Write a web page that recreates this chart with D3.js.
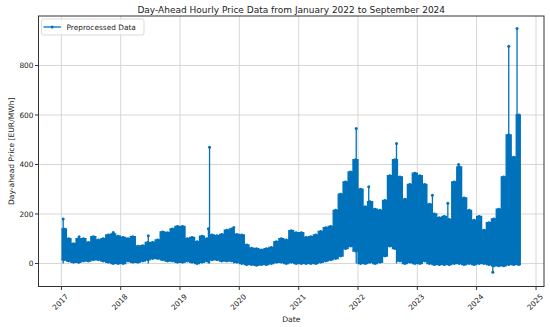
<!DOCTYPE html>
<html>
<head>
<meta charset="utf-8">
<script src="https://cdnjs.cloudflare.com/ajax/libs/d3/7.8.5/d3.min.js"></script>
<style>
  body { margin: 0; background: #fff; }
  text { font-family: "DejaVu Sans", sans-serif; fill: #222; }
</style>
</head>
<body>
<div id="chart"></div>
<script>
////////////////////////////////////////////////////////////////////////
// Data: monthly high / low envelope of the hourly
// prices (EUR/MWh), Jan 2017 .. Sep 2024, plus the single-hour spikes

let startMonth = new Date(2017, 0, 1);
let endDate = new Date(2024, 8, 30);

let monthHigh = [
  140, 100, 80, 100, 100, 85, 108, 95, 100, 115, 120, 110,     // 2017
  105, 100, 108, 70, 72, 85, 85, 95, 128, 125, 140, 150,       // 2018
  150, 100, 105, 88, 110, 100, 115, 112, 118, 135, 140, 118,   // 2019
  115, 75, 62, 60, 55, 60, 65, 88, 100, 95, 133, 125,          // 2020
  125, 105, 108, 115, 130, 145, 150, 215, 280, 330, 370, 420,  // 2021
  300, 230, 250, 220, 215, 255, 355, 420, 350, 260, 320, 365,  // 2022
  355, 320, 240, 200, 185, 190, 178, 330, 390, 265, 215, 175,  // 2023
  190, 135, 165, 180, 220, 350, 520, 430, 600                  // 2024
];

let monthLow = [
  15, 10, 5, 5, 10, 10, 15, 15, 10, 5, 0, 0,
  0, 10, 5, 5, 10, 15, 20, 20, 15, 10, 10, 5,
  5, 10, 5, 0, 5, 10, 15, 15, 10, 10, 10, 5,
  0, -5, -5, -8, -5, -5, 0, 5, 5, 0, 5, 0,
  0, 0, 0, 0, 5, 10, 15, 20, 30, 60, 70, 50,
  0, 0, 5, 0, 5, 30, 70, 60, 10, 0, 5, 0,
  0, 10, 0, -5, -5, -5, -5, 0, 0, -5, 0, -5,
  0, 0, -5, -10, -10, -10, -5, -5, -5
];

let spikeDates = [
  "2017-01-12", "2017-04-20", "2017-11-16", "2018-06-20", "2019-06-25",
  "2019-07-02", "2019-11-28", "2021-12-21", "2022-03-08", "2022-08-26",
  "2023-04-04", "2023-07-08", "2023-09-12", "2024-04-10", "2024-07-17",
  "2024-09-06"
];
let spikeValues = [180, 108, 125, 112, 140, 470, 145, 545, 310, 485, 276, 243, 400, -35, 878, 949];

let yTicks = [0, 200, 400, 600, 800];
let xTickYears = [2017, 2018, 2019, 2020, 2021, 2022, 2023, 2024, 2025];

////////////////////////////////////////////////////////////////////////
// Canvas and scales

let width = 550;
let height = 327;
let padLeft = 38.5, padRight = 544, padTop = 16, padBottom = 286.5;
let blue = "#0072bb";

let svg = d3.select("#chart")
  .append("svg")
  .attr("width", width).attr("height", height);

let xScale = d3.scaleTime()
  .domain([new Date(2016, 7, 13), new Date(2025, 1, 19)])
  .range([padLeft, padRight]);

let yScale = d3.scaleLinear()
  .domain([-93, 1000])
  .range([padBottom, padTop]);

// one step per month, closed at the last day of the series
let parse = d3.timeParse("%Y-%m-%d");
let env = monthHigh.map(function (h, i) {
  return { date: d3.timeMonth.offset(startMonth, i), high: h, low: monthLow[i] };
});
env.push({ date: endDate, high: monthHigh[monthHigh.length - 1], low: monthLow[monthLow.length - 1] });
// markers sit in the middle of each month
let marks = monthHigh.map(function (h, i) {
  let m0 = d3.timeMonth.offset(startMonth, i);
  let m1 = d3.timeMonth.offset(startMonth, i + 1);
  return { date: new Date((+m0 + +m1) / 2), high: h, low: monthLow[i] };
});

let spikes = spikeDates.map((d, i) => ({ date: parse(d), value: spikeValues[i] }));

////////////////////////////////////////////////////////////////////////
// Grid

let grid = svg.append("g").attr("stroke", "#d3d3d3").attr("stroke-width", 0.9);
grid.selectAll(".vgrid")
  .data(xTickYears)
  .enter()
  .append("line")
  .attr("x1", d => xScale(new Date(d, 0, 1))).attr("x2", d => xScale(new Date(d, 0, 1)))
  .attr("y1", padTop).attr("y2", padBottom);
grid.selectAll(".hgrid")
  .data(yTicks)
  .enter()
  .append("line")
  .attr("x1", padLeft).attr("x2", padRight)
  .attr("y1", d => yScale(d)).attr("y2", d => yScale(d));

////////////////////////////////////////////////////////////////////////
// Data: band, edges with markers, spikes

let plot = svg.append("g");

plot.append("path")
  .datum(env)
  .attr("fill", blue)
  .attr("d", d3.area()
    .curve(d3.curveStepAfter)
    .x(d => xScale(d.date))
    .y0(d => yScale(d.low))
    .y1(d => yScale(d.high)));

["high", "low"].forEach(function (k) {
  plot.append("path")
    .datum(env)
    .attr("fill", "none")
    .attr("stroke", blue)
    .attr("stroke-width", 1.3)
    .attr("d", d3.line().curve(d3.curveStepAfter).x(d => xScale(d.date)).y(d => yScale(d[k])));
  plot.selectAll(".dot-" + k)
    .data(marks)
    .enter()
    .append("circle")
    .attr("cx", d => xScale(d.date))
    .attr("cy", d => yScale(d[k]))
    .attr("r", 1.4)
    .attr("fill", blue);
});

plot.selectAll(".spike")
  .data(spikes)
  .enter()
  .append("line")
  .attr("x1", d => xScale(d.date)).attr("x2", d => xScale(d.date))
  .attr("y1", yScale(0)).attr("y2", d => yScale(d.value))
  .attr("stroke", blue)
  .attr("stroke-width", 1.3);

plot.selectAll(".spikedot")
  .data(spikes)
  .enter()
  .append("circle")
  .attr("cx", d => xScale(d.date))
  .attr("cy", d => yScale(d.value))
  .attr("r", 1.5)
  .attr("fill", blue);

////////////////////////////////////////////////////////////////////////
// Frame, ticks, labels

svg.append("rect")
  .attr("x", padLeft).attr("y", padTop)
  .attr("width", padRight - padLeft).attr("height", padBottom - padTop)
  .attr("fill", "none").attr("stroke", "#333").attr("stroke-width", 1);

svg.selectAll(".ytick")
  .data(yTicks)
  .enter()
  .append("line")
  .attr("x1", padLeft - 3.5).attr("x2", padLeft)
  .attr("y1", d => yScale(d)).attr("y2", d => yScale(d))
  .attr("stroke", "#333");

svg.selectAll(".ylab")
  .data(yTicks)
  .enter()
  .append("text")
  .attr("x", padLeft - 5)
  .attr("y", d => yScale(d))
  .attr("dy", "0.35em")
  .attr("text-anchor", "end")
  .attr("font-size", "7.4px")
  .text(d => d);

svg.selectAll(".xtick")
  .data(xTickYears)
  .enter()
  .append("line")
  .attr("x1", d => xScale(new Date(d, 0, 1))).attr("x2", d => xScale(new Date(d, 0, 1)))
  .attr("y1", padBottom).attr("y2", padBottom + 3.5)
  .attr("stroke", "#333");

svg.selectAll(".xlab")
  .data(xTickYears)
  .enter()
  .append("text")
  .attr("transform", d => "translate(" + (xScale(new Date(d, 0, 1)) - 1) + "," + 302 + ") rotate(-45)")
  .attr("text-anchor", "middle")
  .attr("dy", "0.35em")
  .attr("font-size", "7.4px")
  .text(d => d);

svg.append("text")
  .attr("x", (padLeft + padRight) / 2).attr("y", 322)
  .attr("text-anchor", "middle")
  .attr("font-size", "7.6px")
  .text("Date");

svg.append("text")
  .attr("transform", "translate(13.5," + ((padTop + padBottom) / 2) + ") rotate(-90)")
  .attr("text-anchor", "middle")
  .attr("font-size", "7.6px")
  .text("Day-ahead Price [EUR/MWh]");

svg.append("text")
  .attr("x", (padLeft + padRight) / 2).attr("y", 12.5)
  .attr("text-anchor", "middle")
  .attr("font-size", "9px")
  .text("Day-Ahead Hourly Price Data from January 2022 to September 2024");

// legend
let legend = svg.append("g");
legend.append("rect")
  .attr("x", 41.5).attr("y", 19)
  .attr("width", 102.5).attr("height", 16)
  .attr("rx", 2)
  .attr("fill", "#fff").attr("fill-opacity", 0.8)
  .attr("stroke", "#d0d0d0").attr("stroke-width", 0.8);
legend.append("line")
  .attr("x1", 43.5).attr("x2", 61).attr("y1", 27).attr("y2", 27)
  .attr("stroke", blue).attr("stroke-width", 1.3);
legend.append("circle")
  .attr("cx", 52.2).attr("cy", 27).attr("r", 1.5).attr("fill", blue);
legend.append("text")
  .attr("x", 66.5).attr("y", 29.8)
  .attr("font-size", "7.4px")
  .text("Preprocessed Data");
</script>
</body>
</html>
